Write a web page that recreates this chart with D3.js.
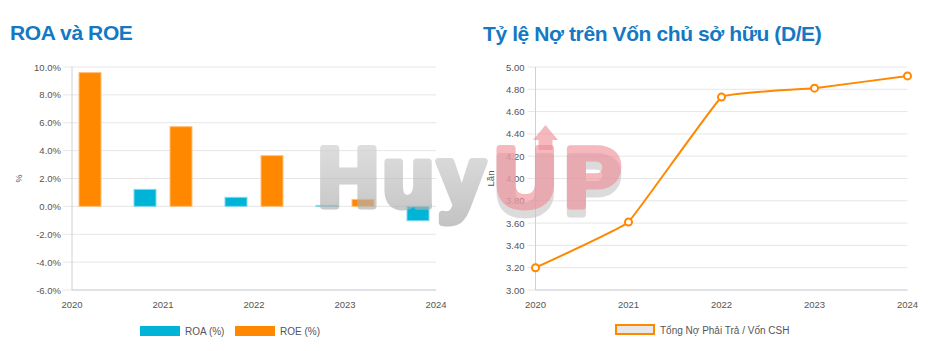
<!DOCTYPE html>
<html lang="vi">
<head>
<meta charset="utf-8">
<title>ROA và ROE / D/E</title>
<script src="https://d3js.org/d3.v7.min.js"></script>
<style>
  body { margin: 0; background: #fff; }
  svg { font-family: "Liberation Sans", Arial, sans-serif; }
  .title { font-weight: bold; font-size: 21px; fill: #1479c2; letter-spacing: -0.4px; }
  .tick text { font-size: 9.5px; fill: #555; }
  .lg { font-size: 10px; fill: #555; }
  .wm { font-family: "Liberation Sans", Arial, sans-serif; font-weight: bold; font-size: 84px; stroke-width: 7px; stroke-linejoin: round; }
</style>
</head>
<body>
<svg id="chart" width="935" height="351"></svg>
<script>
// data
var years = ["2020", "2021", "2022", "2023", "2024"]
var roa = [null, 1.22, 0.65, 0.07, -1.03]
var roe = [9.6, 5.72, 3.64, 0.5, null]
var roaTicks = [-6, -4, -2, 0, 2, 4, 6, 8, 10]
var deValues = [3.20, 3.61, 4.73, 4.81, 4.92]
var deTicks = [3.0, 3.2, 3.4, 3.6, 3.8, 4.0, 4.2, 4.4, 4.6, 4.8, 5.0]

var blue = "#00b4d8", orange = "#ff8800", gridC = "#e6e6e6", axisC = "#ccd0d8"

var svg = d3.select("#chart")

var defs = svg.append("defs")
var gg = defs.append("linearGradient").attr("id", "wmGray").attr("x1", 0).attr("x2", 0).attr("y1", 0).attr("y2", 1)
gg.append("stop").attr("offset", "0%").attr("stop-color", "#d6d6d6")
gg.append("stop").attr("offset", "100%").attr("stop-color", "#a8a8a8")

// titles
svg.append("text").attr("class", "title").attr("x", 10).attr("y", 39.5).text("ROA và ROE")
svg.append("text").attr("class", "title").attr("x", 483).attr("y", 40.5).text("Tỷ lệ Nợ trên Vốn chủ sở hữu (D/E)")

// ---------- left chart ----------
var L = {x0: 72, x1: 436, y0: 67, y1: 290}
var xL = d3.scalePoint().domain(years).range([L.x0, L.x1])
var yL = d3.scaleLinear().domain([-6, 10]).range([L.y1, L.y0])

var gl = svg.append("g")
gl.append("g").selectAll("line").data(roaTicks).join("line")
  .attr("x1", L.x0 - 9).attr("x2", L.x1)
  .attr("y1", d => yL(d)).attr("y2", d => yL(d))
  .attr("stroke", gridC)

gl.append("g").attr("class", "tick").selectAll("text").data(roaTicks).join("text")
  .attr("x", L.x0 - 11).attr("y", d => yL(d) + 3.5)
  .attr("text-anchor", "end").text(d => d.toFixed(1) + "%")

gl.append("g").attr("class", "tick").selectAll("text").data(years).join("text")
  .attr("x", d => xL(d)).attr("y", 308).attr("text-anchor", "middle").text(d => d)

gl.append("line").attr("x1", L.x0).attr("x2", L.x0).attr("y1", L.y0).attr("y2", L.y1).attr("stroke", axisC)
gl.append("line").attr("x1", L.x0).attr("x2", L.x1).attr("y1", L.y1).attr("y2", L.y1).attr("stroke", axisC)

svg.append("text").attr("class", "lg").attr("transform", "translate(22," + yL(2) + ") rotate(-90)")
  .attr("text-anchor", "middle").style("font-size", "9px").text("%")

var bw = 22, off = 7
function bars(vals, color, lighter, side) {
  gl.append("g").selectAll("rect").data(vals.map((v, i) => ({v: v, y: years[i]})).filter(d => d.v != null)).join("rect")
    .attr("x", d => side < 0 ? xL(d.y) - off - bw : xL(d.y) + off)
    .attr("width", bw)
    .attr("y", d => yL(Math.max(0, d.v)))
    .attr("height", d => Math.max(1, Math.abs(yL(d.v) - yL(0))))
    .attr("fill", color).attr("stroke", lighter).attr("stroke-width", 1)
}
bars(roa, blue, "#7fd9ec", -1)
bars(roe, orange, "#ffc07a", 1)

// left legend
svg.append("rect").attr("x", 140).attr("y", 326).attr("width", 40).attr("height", 10).attr("fill", blue)
svg.append("text").attr("class", "lg").attr("x", 185).attr("y", 334.5).text("ROA (%)")
svg.append("rect").attr("x", 235).attr("y", 326).attr("width", 40).attr("height", 10).attr("fill", orange)
svg.append("text").attr("class", "lg").attr("x", 280).attr("y", 334.5).text("ROE (%)")

// ---------- right chart ----------
var R = {x0: 535.5, x1: 907.5, y0: 67, y1: 290}
var xR = d3.scalePoint().domain(years).range([R.x0, R.x1])
var yR = d3.scaleLinear().domain([3, 5]).range([R.y1, R.y0])

var gr = svg.append("g")
gr.append("g").selectAll("line").data(deTicks).join("line")
  .attr("x1", R.x0 - 8).attr("x2", R.x1)
  .attr("y1", d => yR(d)).attr("y2", d => yR(d))
  .attr("stroke", gridC)

gr.append("g").attr("class", "tick").selectAll("text").data(deTicks).join("text")
  .attr("x", R.x0 - 11).attr("y", d => yR(d) + 3.5)
  .attr("text-anchor", "end").text(d => d.toFixed(2))

gr.append("g").attr("class", "tick").selectAll("text").data(years).join("text")
  .attr("x", d => xR(d)).attr("y", 308).attr("text-anchor", "middle").text(d => d)

gr.append("line").attr("x1", R.x0).attr("x2", R.x0).attr("y1", R.y0).attr("y2", R.y1).attr("stroke", axisC)
gr.append("line").attr("x1", R.x0).attr("x2", R.x1).attr("y1", R.y1).attr("y2", R.y1).attr("stroke", axisC)

svg.append("text").attr("class", "lg").attr("transform", "translate(494," + yR(4) + ") rotate(-90)")
  .attr("text-anchor", "middle").style("font-size", "9.5px").text("Lần")

// watermark (HuyUP)
var wm = svg.append("g").attr("class", "wm")
wm.append("text").attr("x", 318).attr("y", 206).attr("letter-spacing", 4)
  .attr("fill", "url(#wmGray)").attr("stroke", "url(#wmGray)").attr("opacity", 0.68).text("Huy")
wm.append("text").attr("x", 495).attr("y", 214).attr("letter-spacing", 9)
  .attr("fill", "#c4c4c4").attr("stroke", "#c4c4c4").attr("opacity", 0.6).text("UP")
wm.append("text").attr("x", 495).attr("y", 206).attr("letter-spacing", 9)
  .attr("fill", "#ef8d96").attr("stroke", "#ef8d96").attr("opacity", 0.62).text("UP")
wm.append("path").attr("d", "M533,140 L545.5,125 L558,140 L552.5,140 L552.5,150 L538.5,150 L538.5,140 Z")
  .attr("fill", "#ef8d96").attr("opacity", 0.62)

var line = d3.line().x((d, i) => xR(years[i])).y(d => yR(d)).curve(d3.curveCardinal.tension(0.8))
gr.append("path").datum(deValues).attr("d", line)
  .attr("fill", "none").attr("stroke", orange).attr("stroke-width", 2)
gr.append("g").selectAll("circle").data(deValues).join("circle")
  .attr("cx", (d, i) => xR(years[i])).attr("cy", d => yR(d)).attr("r", 3.5)
  .attr("fill", "#fff").attr("stroke", orange).attr("stroke-width", 2)

// right legend
svg.append("rect").attr("x", 616).attr("y", 325).attr("width", 38).attr("height", 9)
  .attr("fill", "#e8e8e8").attr("stroke", orange).attr("stroke-width", 2)
svg.append("text").attr("class", "lg").attr("x", 660).attr("y", 334).text("Tổng Nợ Phải Trả / Vốn CSH")
</script>
</body>
</html>
